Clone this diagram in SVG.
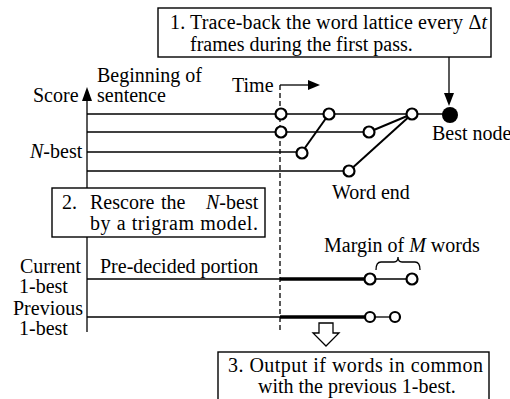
<svg xmlns="http://www.w3.org/2000/svg" width="510" height="399" viewBox="0 0 510 399" font-family="'Liberation Serif', 'Times New Roman', serif">
<style>
text{font-family:"Liberation Serif","Times New Roman",serif;font-size:20px;fill:#000}
.i{font-style:italic}
.box{fill:#fff;stroke:#000;stroke-width:1.4}
.ln{stroke:#000;stroke-width:1.3;fill:none}
.th{stroke:#000;stroke-width:3.5;fill:none}
.cn{stroke:#000;stroke-width:2;fill:none}
.nd{fill:#fff;stroke:#000;stroke-width:2.2}
</style>
<rect width="510" height="399" fill="#fff"/>
<g id="connectors">
  <line class="ln" x1="87" y1="95" x2="87" y2="332"/>
  <polygon points="82,101 92,101 87,87" fill="#000"/>
  <line class="ln" x1="280" y1="85" x2="280" y2="332" stroke-dasharray="5,3"/>
  <line class="ln" x1="280" y1="85" x2="310" y2="85"/>
  <polygon points="308,80 320,85 308,90" fill="#000"/>
  <line class="ln" x1="449" y1="57" x2="449" y2="95"/>
  <polygon points="444,93 454,93 449,106" fill="#000"/>
  <line class="ln" x1="87" y1="114" x2="450" y2="114"/>
  <line class="ln" x1="87" y1="132" x2="369" y2="132"/>
  <line class="ln" x1="87" y1="152" x2="302" y2="152"/>
  <line class="ln" x1="87" y1="171" x2="349" y2="171"/>
  <line class="cn" x1="302" y1="152" x2="329" y2="114"/>
  <line class="cn" x1="369" y1="132" x2="412" y2="114"/>
  <line class="cn" x1="349" y1="171" x2="412" y2="114"/>
  <line class="ln" x1="87" y1="279" x2="280" y2="279"/>
  <line class="th" x1="280" y1="279" x2="366" y2="279"/>
  <line class="ln" x1="370" y1="279" x2="412" y2="279"/>
  <line class="ln" x1="87" y1="317" x2="280" y2="317"/>
  <line class="th" x1="280" y1="317" x2="366" y2="317"/>
  <line class="ln" x1="370" y1="317" x2="395" y2="317"/>
  <path class="ln" d="M376,270 Q376,262 381,262 H394 Q398,262 398,257 Q398,262 402,262 H415 Q420,262 420,270"/>
  <polygon points="319,323 333,323 333,333 339,333 326,346 313,333 319,333" fill="#fff" stroke="#000" stroke-width="1.3"/>
</g>
<g id="box1">
  <rect class="box" x="158" y="8" width="333" height="49"/>
  <text x="170" y="29" textLength="317" lengthAdjust="spacing">1. Trace-back the word lattice every Δ<tspan class="i">t</tspan></text>
  <text x="190" y="51">frames during the first pass.</text>
</g>
<g id="box2">
  <rect class="box" x="52" y="188" width="213" height="49"/>
  <text x="62" y="209">2.</text>
  <text x="90" y="209">Rescore</text>
  <text x="161" y="209">the</text>
  <text x="206" y="209"><tspan class="i">N</tspan>-best</text>
  <text x="90" y="230" textLength="168" lengthAdjust="spacing">by a trigram model.</text>
</g>
<g id="box3">
  <rect class="box" x="218" y="352" width="271" height="52"/>
  <text x="228" y="372" textLength="255" lengthAdjust="spacing">3. Output if words in common</text>
  <text x="258" y="393">with the previous 1-best.</text>
</g>
<g id="labels">
  <text x="33" y="102">Score</text>
  <text x="97" y="82">Beginning of</text>
  <text x="97" y="102">sentence</text>
  <text x="30" y="158"><tspan class="i">N</tspan>-best</text>
  <text x="232" y="92">Time</text>
  <text x="432" y="140">Best node</text>
  <text x="332" y="199">Word end</text>
  <text x="20" y="273">Current</text>
  <text x="19" y="293">1-best</text>
  <text x="13" y="315">Previous</text>
  <text x="19" y="335">1-best</text>
  <text x="100" y="273">Pre-decided portion</text>
  <text x="324" y="252">Margin of <tspan class="i">M</tspan> words</text>
</g>
<g id="node-a"><circle class="nd" cx="281" cy="114" r="5.5"/></g>
<g id="node-b"><circle class="nd" cx="329" cy="114" r="5.5"/></g>
<g id="node-c"><circle class="nd" cx="412" cy="114" r="5.5"/></g>
<g id="best-node"><circle cx="450" cy="115" r="8" fill="#000"/></g>
<g id="node-d"><circle class="nd" cx="281" cy="132" r="5.5"/></g>
<g id="node-e"><circle class="nd" cx="369" cy="132" r="5.5"/></g>
<g id="node-f"><circle class="nd" cx="302" cy="153" r="5.5"/></g>
<g id="node-g"><circle class="nd" cx="349" cy="171" r="5.5"/></g>
<g id="cur-1"><circle class="nd" cx="370" cy="279" r="5.5"/></g>
<g id="cur-2"><circle class="nd" cx="412" cy="279" r="5.5"/></g>
<g id="prev-1"><circle class="nd" cx="370" cy="317" r="5"/></g>
<g id="prev-2"><circle class="nd" cx="395" cy="317" r="5"/></g>
</svg>
